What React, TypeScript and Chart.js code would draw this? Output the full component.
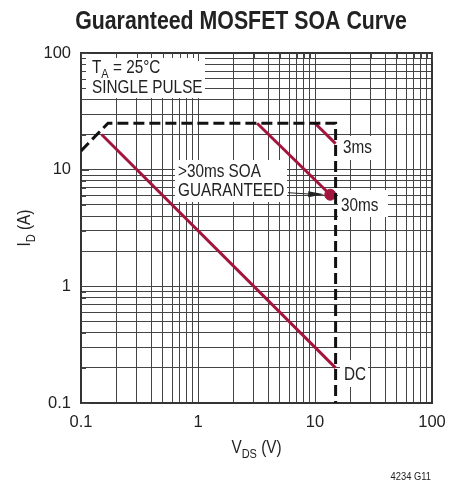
import React, { useEffect, useRef } from 'react';
import { Chart, registerables } from 'chart.js';

Chart.register(...registerables);

// log grid positions (every 1..9 step per decade) and the labelled ones
const logTicks = [
  0.1, 0.2, 0.3, 0.4, 0.5, 0.6, 0.7, 0.8, 0.9,
  1, 2, 3, 4, 5, 6, 7, 8, 9,
  10, 20, 30, 40, 50, 60, 70, 80, 90,
  100,
];
const majorTicks = [0.1, 1, 10, 100];

// SOA boundary (dashed)
const limitV = [0.1, 0.17, 15, 15];
const limitI = [14.5, 25, 25, 0.1];
// DC curve
const dcV = [0.15, 15];
const dcI = [20, 0.2];
// 30ms curve
const ms30V = [3.2, 13.5];
const ms30I = [25, 6.1];
// 3ms curve
const ms3V = [10, 15];
const ms3I = [25, 16.7];
// guaranteed point
const guaranteedV = [13.5];
const guaranteedI = [6.1];

const RED = '#A3153D';
const INK = '#222';
const GRID = '#444';
const FONT = '"Liberation Sans", Arial, sans-serif';
const NARROW = 0.85; // horizontal squeeze to mimic a condensed face

type Run = { text: string; sub?: boolean };

function setFont(ctx: CanvasRenderingContext2D, size: number, bold = false) {
  ctx.font = `${bold ? 'bold ' : ''}${size}px ${FONT}`;
}

function runsWidth(ctx: CanvasRenderingContext2D, runs: Run[], size: number) {
  let w = 0;
  for (const r of runs) {
    setFont(ctx, r.sub ? size * 0.72 : size);
    w += ctx.measureText(r.text).width;
  }
  return w * NARROW;
}

// draw squeezed text with subscripts, left-aligned on baseline (x, y)
function drawRuns(ctx: CanvasRenderingContext2D, runs: Run[], x: number, y: number, size: number) {
  ctx.save();
  ctx.translate(x, y);
  ctx.scale(NARROW, 1);
  ctx.textAlign = 'left';
  ctx.textBaseline = 'alphabetic';
  let cx = 0;
  for (const r of runs) {
    const s = r.sub ? size * 0.72 : size;
    setFont(ctx, s);
    ctx.fillText(r.text, cx, r.sub ? size * 0.25 : 0);
    cx += ctx.measureText(r.text).width;
  }
  ctx.restore();
}

const annotations = {
  id: 'annotations',
  beforeDatasetsDraw(chart: any) {
    const { ctx, chartArea: a, scales } = chart;
    const x = scales.x;
    const y = scales.y;
    ctx.save();
    ctx.fillStyle = '#fff';
    // white label boxes over the grid
    ctx.fillRect(a.left, a.top, 124, 45);
    ctx.fillRect(175, 160, 112, 42);
    ctx.fillRect(339, 136, 42, 24);
    ctx.fillRect(338, 190, 50, 27);
    ctx.fillRect(340, 360, 28, 27);

    // frame
    ctx.strokeStyle = '#333';
    ctx.lineWidth = 2;
    ctx.strokeRect(a.left, a.top, a.right - a.left, a.bottom - a.top);

    // inward ticks on left and top edges
    ctx.lineWidth = 1;
    ctx.strokeStyle = GRID;
    ctx.beginPath();
    for (const v of logTicks) {
      const len = majorTicks.includes(v) ? 8 : 5;
      const py = Math.round(y.getPixelForValue(v)) + 0.5;
      ctx.moveTo(a.left, py);
      ctx.lineTo(a.left + len, py);
      const px = Math.round(x.getPixelForValue(v)) + 0.5;
      ctx.moveTo(px, a.top);
      ctx.lineTo(px, a.top + len);
    }
    ctx.stroke();
    ctx.restore();
  },
  afterDatasetsDraw(chart: any) {
    const { ctx, chartArea: a, scales } = chart;
    const x = scales.x;
    const y = scales.y;
    ctx.save();
    ctx.fillStyle = INK;

    const size = 18;
    drawRuns(ctx, [{ text: 'T' }, { text: 'A', sub: true }, { text: ' = 25°C' }], 92, 73, size);
    drawRuns(ctx, [{ text: 'SINGLE PULSE' }], 92, 93, size);

    drawRuns(ctx, [{ text: '>30ms SOA' }], 178, 177, size);
    drawRuns(ctx, [{ text: 'GUARANTEED' }], 178, 196, size);

    drawRuns(ctx, [{ text: '3ms' }], 343, 153, size);
    drawRuns(ctx, [{ text: '30ms' }], 341, 211, size);
    drawRuns(ctx, [{ text: 'DC' }], 344, 380, size);

    // arrow to the guaranteed point
    const tipX = x.getPixelForValue(guaranteedV[0]) - 6;
    const tipY = y.getPixelForValue(guaranteedI[0]) - 0.5;
    const startX = 288;
    const startY = tipY - 1.5;
    ctx.strokeStyle = INK;
    ctx.lineWidth = 1;
    ctx.beginPath();
    ctx.moveTo(startX, startY);
    ctx.lineTo(tipX - 12, tipY);
    ctx.stroke();
    ctx.beginPath();
    ctx.moveTo(tipX, tipY);
    ctx.lineTo(tipX - 16, tipY - 3);
    ctx.lineTo(tipX - 16, tipY + 3);
    ctx.closePath();
    ctx.fill();

    // title
    ctx.save();
    ctx.translate(241, 29);
    ctx.scale(0.82, 1);
    setFont(ctx, 26, true);
    ctx.textAlign = 'center';
    ctx.fillStyle = INK;
    ctx.fillText('Guaranteed MOSFET SOA Curve', 0, 0);
    ctx.restore();

    // x axis title
    const xt: Run[] = [{ text: 'V' }, { text: 'DS', sub: true }, { text: ' (V)' }];
    const xw = runsWidth(ctx, xt, size);
    drawRuns(ctx, xt, (a.left + a.right) / 2 - xw / 2, 453, size);

    // y axis title
    const yt: Run[] = [{ text: 'I' }, { text: 'D', sub: true }, { text: ' (A)' }];
    const yw = runsWidth(ctx, yt, size);
    ctx.save();
    ctx.translate(30, (a.top + a.bottom) / 2);
    ctx.rotate(-Math.PI / 2);
    drawRuns(ctx, yt, -yw / 2, 0, size);
    ctx.restore();

    // note
    ctx.save();
    ctx.translate(431, 480);
    ctx.scale(NARROW, 1);
    setFont(ctx, 11);
    ctx.textAlign = 'right';
    ctx.fillText('4234 G11', 0, 0);
    ctx.restore();
    ctx.restore();
  },
};

function pts(xs: number[], ys: number[]) {
  return xs.map((v, i) => ({ x: v, y: ys[i] }));
}

function SoaChart() {
  const chartRef = useRef<HTMLCanvasElement>(null);
  const chartInstance = useRef<Chart | null>(null);

  useEffect(() => {
    if (!chartRef.current) return;
    if (chartInstance.current) chartInstance.current.destroy();
    const ctx = chartRef.current.getContext('2d');
    if (!ctx) return;

    const lineSet = (data: { x: number; y: number }[], color: string, dash: number[] = []) => ({
      data,
      showLine: true,
      borderColor: color,
      borderWidth: 3,
      borderDash: dash,
      pointRadius: 0,
      fill: false,
      tension: 0,
    });

    const setTicks = (scale: any) => {
      scale.ticks = logTicks.map((v) => ({ value: v }));
    };
    const tickLabel = (value: any) => (majorTicks.includes(Number(value)) ? String(value) : '');

    chartInstance.current = new Chart(ctx, {
      type: 'scatter',
      data: {
        datasets: [
          lineSet(pts(limitV, limitI), '#111', [11, 5]),
          lineSet(pts(dcV, dcI), RED),
          lineSet(pts(ms30V, ms30I), RED),
          lineSet(pts(ms3V, ms3I), RED),
          {
            data: pts(guaranteedV, guaranteedI),
            pointRadius: 5.5,
            pointBackgroundColor: RED,
            pointBorderColor: RED,
            showLine: false,
          } as any,
        ],
      },
      options: {
        responsive: false,
        animation: false,
        layout: { padding: { left: 0, top: 53, right: 28, bottom: 0 } },
        plugins: {
          legend: { display: false },
          tooltip: { enabled: false },
        },
        scales: {
          x: {
            type: 'logarithmic',
            min: 0.1,
            max: 100,
            afterBuildTicks: setTicks,
            afterFit: (s: any) => { s.height = 84; },
            grid: { color: GRID, lineWidth: 1, drawTicks: false },
            border: { display: false },
            ticks: {
              autoSkip: false,
              maxRotation: 0,
              padding: 10,
              color: INK,
              font: { family: FONT, size: 16.5 },
              callback: tickLabel,
            },
          },
          y: {
            type: 'logarithmic',
            min: 0.1,
            max: 100,
            afterBuildTicks: setTicks,
            afterFit: (s: any) => { s.width = 81; },
            grid: { color: GRID, lineWidth: 1, drawTicks: false },
            border: { display: false },
            ticks: {
              autoSkip: false,
              padding: 10,
              color: INK,
              font: { family: FONT, size: 16.5 },
              callback: tickLabel,
            },
          },
        },
      },
      plugins: [annotations],
    });

    return () => {
      if (chartInstance.current) {
        chartInstance.current.destroy();
        chartInstance.current = null;
      }
    };
  }, []);

  return (
    <div style={{ position: 'absolute', left: 0, top: 0, width: 460, height: 487, background: '#fff' }}>
      <canvas ref={chartRef} width={460} height={487} style={{ display: 'block' }} />
    </div>
  );
}

export default function App() {
  return <SoaChart />;
}
